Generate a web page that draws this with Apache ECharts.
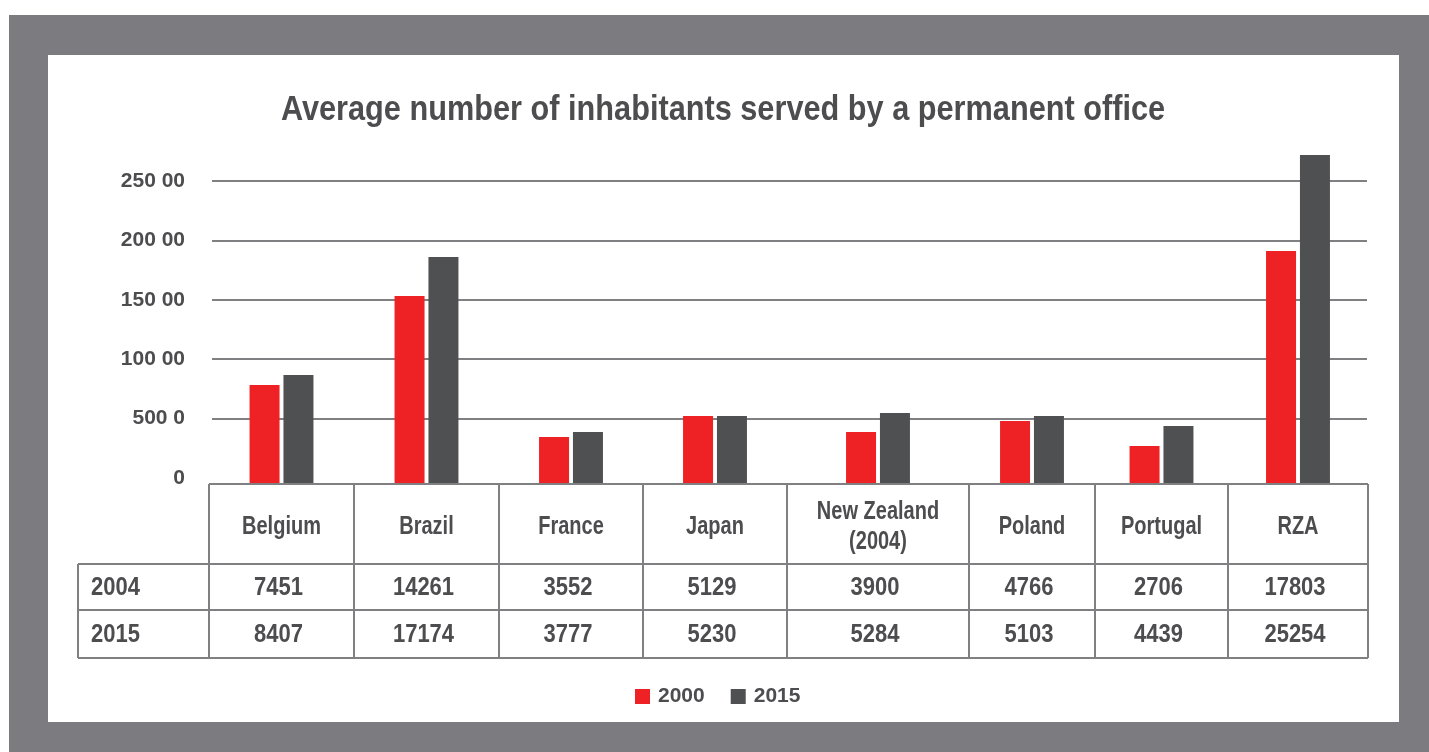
<!DOCTYPE html>
<html>
<head>
<meta charset="utf-8">
<script src="https://cdn.jsdelivr.net/npm/echarts@6/dist/echarts.min.js"></script>
<style>
  html, body { margin: 0; padding: 0; background: #fff; }
  #main { width: 1429px; height: 752px; }
</style>
</head>
<body>
<div id="main"></div>
<script>
var countries = ['Belgium', 'Brazil', 'France', 'Japan', 'New Zealand\n(2004)', 'Poland', 'Portugal', 'RZA'];
// bar heights
var bars2000 = [8170, 15505, 3876, 5608, 4289, 5196, 3134, 19216];
var bars2015 = [8990, 18722, 4289, 5608, 5856, 5608, 4784, 27134];
// numbers printed in the table
var row2004 = ['7451', '14261', '3552', '5129', '3900', '4766', '2706', '17803'];
var row2015 = ['8407', '17174', '3777', '5230', '5284', '5103', '4439', '25254'];
var rowNames = ['2004', '2015'];
var yTicks = [0, 5000, 10000, 15000, 20000, 25000];
var yTickLabels = ['0', '500 0', '100 00', '150 00', '200 00', '250 00'];

var FONT = "'Liberation Sans', Arial, sans-serif";
var TXT = '#4d4d4f';
var LINE = '#808083';
var RED = '#ee2124';
var DARK = '#4f5052';

// table column edges
var colX = [209, 354, 499, 643, 787, 969, 1095, 1228, 1368];
var rowY = [484, 564, 610, 658];
var tableLeft = 78;

var chart = echarts.init(document.getElementById('main'));

var grids = [], xAxes = [], yAxes = [], series = [];

// grid 0: ticks and grid lines only
grids.push({ left: 212, right: 62, top: 181, height: 297 });
xAxes.push({ gridIndex: 0, type: 'category', data: [''], show: false });
yAxes.push({
  gridIndex: 0, type: 'value', min: 0, max: 25000, interval: 5000,
  axisLine: { show: false }, axisTick: { show: false },
  axisLabel: {
    margin: 27, color: TXT, fontFamily: FONT, fontWeight: 'bold', fontSize: 21,
    formatter: function (v) { return yTickLabels[yTicks.indexOf(v)]; }
  },
  splitLine: { showMinLine: false, lineStyle: { color: LINE, width: 2 } }
});

// one grid per table column so bars sit over their column
for (var i = 0; i < countries.length; i++) {
  var g = i + 1;
  grids.push({ left: colX[i], width: colX[i + 1] - colX[i], top: 153, height: 331 });
  xAxes.push({ gridIndex: g, type: 'category', data: [countries[i]], show: false });
  yAxes.push({ gridIndex: g, type: 'value', min: 0, max: 27300, show: false, splitLine: { show: false } });
  series.push({
    name: '2000', type: 'bar', xAxisIndex: g, yAxisIndex: g,
    barWidth: 30, barGap: '13%', itemStyle: { color: RED },
    data: [bars2000[i]]
  });
  series.push({
    name: '2015', type: 'bar', xAxisIndex: g, yAxisIndex: g,
    barWidth: 30, barGap: '13%', itemStyle: { color: DARK },
    data: [bars2015[i]]
  });
}

// frame, title and table drawn as graphics
var gfx = [
  { type: 'rect', z: -20, shape: { x: 9, y: 15, width: 1420, height: 737 }, style: { fill: '#7b7b80' } },
  { type: 'rect', z: -19, shape: { x: 48, y: 55, width: 1351, height: 667 }, style: { fill: '#ffffff' } },
  {
    type: 'text', z: 50, x: 723, y: 110, scaleX: 0.877,
    style: {
      text: 'Average number of inhabitants served by a permanent office',
      fill: TXT, font: 'bold 35px ' + FONT, align: 'center', verticalAlign: 'middle'
    }
  }
];
function hline(x1, x2, y) {
  gfx.push({ type: 'line', z: 50, shape: { x1: x1, y1: y, x2: x2, y2: y }, style: { stroke: LINE, lineWidth: 2 } });
}
function vline(x, y1, y2) {
  gfx.push({ type: 'line', z: 50, shape: { x1: x, y1: y1, x2: x, y2: y2 }, style: { stroke: LINE, lineWidth: 2 } });
}
function label(txt, x, y, sx, align) {
  gfx.push({
    type: 'text', z: 50, x: x, y: y, scaleX: sx,
    style: { text: txt, fill: TXT, font: 'bold 25px ' + FONT, align: align || 'center', verticalAlign: 'middle', lineHeight: 30 }
  });
}
hline(colX[0], colX[8], rowY[0]);
hline(tableLeft, colX[8], rowY[1]);
hline(tableLeft, colX[8], rowY[2]);
hline(tableLeft, colX[8], rowY[3]);
vline(tableLeft, rowY[1], rowY[3]);
colX.forEach(function (x) { vline(x, rowY[0], rowY[3]); });

for (var c = 0; c < countries.length; c++) {
  var cx = (colX[c] + colX[c + 1]) / 2;
  label(countries[c], cx, (rowY[0] + rowY[1]) / 2 + 3, 0.8);
  label(row2004[c], cx - 3, (rowY[1] + rowY[2]) / 2 + 1, 0.88);
  label(row2015[c], cx - 3, (rowY[2] + rowY[3]) / 2 + 1, 0.88);
}
label(rowNames[0], 91, (rowY[1] + rowY[2]) / 2 + 1, 0.88, 'left');
label(rowNames[1], 91, (rowY[2] + rowY[3]) / 2 + 1, 0.88, 'left');

var option = {
  backgroundColor: '#ffffff',
  animation: false,
  legend: {
    data: ['2000', '2015'],
    left: 630, top: 681,
    icon: 'rect', itemWidth: 15, itemHeight: 15, itemGap: 26,
    textStyle: { color: TXT, fontFamily: FONT, fontWeight: 'bold', fontSize: 21, padding: [0, 0, 0, 3] }
  },
  grid: grids,
  xAxis: xAxes,
  yAxis: yAxes,
  series: series,
  graphic: gfx
};
chart.setOption(option);
</script>
</body>
</html>
